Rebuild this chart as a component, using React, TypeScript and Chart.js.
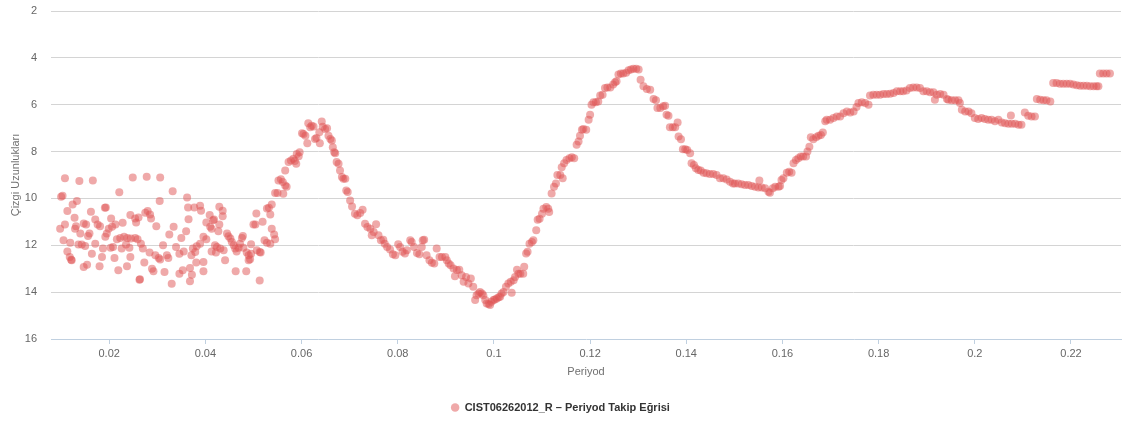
import { useEffect, useRef } from "react";
import { Chart, registerables } from "chart.js";

Chart.register(...registerables);

// [period, line length] pairs, grouped by period range
const scatterEarly: [number, number][] = [
  [0.0108, 9.14], [0.0138, 9.26], [0.0166, 9.23], [0.0249, 9.11], [0.0278, 9.07], [0.0306, 9.11],
  [0.0103, 9.89], [0.01, 9.93], [0.0221, 9.74], [0.0133, 10.11], [0.0124, 10.26], [0.0113, 10.54],
  [0.0305, 10.11], [0.0162, 10.57], [0.0193, 10.39], [0.0191, 10.4], [0.0128, 10.83], [0.0204, 10.86],
  [0.0244, 10.71], [0.0254, 10.86], [0.0261, 10.81], [0.028, 10.54], [0.0275, 10.61], [0.0285, 10.69],
  [0.0287, 10.86], [0.0171, 10.9], [0.0147, 11.07], [0.0152, 11.11], [0.0176, 11.11], [0.0181, 11.19],
  [0.0108, 11.11], [0.0098, 11.29], [0.0131, 11.19], [0.0129, 11.29], [0.0213, 11.11], [0.0228, 11.04],
  [0.0199, 11.29], [0.0206, 11.21], [0.0256, 11.03], [0.0298, 11.19], [0.014, 11.5], [0.0159, 11.5],
  [0.0156, 11.6], [0.0192, 11.64], [0.0195, 11.5], [0.0216, 11.74], [0.0223, 11.69], [0.0231, 11.64],
  [0.0238, 11.69], [0.0245, 11.71], [0.0254, 11.69], [0.0259, 11.74], [0.0325, 11.54], [0.0105, 11.79],
  [0.0119, 11.89], [0.0136, 11.97], [0.0143, 11.97], [0.015, 12.03], [0.0171, 11.93], [0.0187, 12.14],
  [0.0203, 12.11], [0.0208, 12.07], [0.0226, 12.14], [0.0235, 11.97], [0.0242, 12.11], [0.0266, 11.93],
  [0.027, 12.14], [0.0284, 12.31], [0.0312, 12.0], [0.0113, 12.26], [0.0118, 12.5], [0.0122, 12.64],
  [0.0121, 12.62], [0.0164, 12.36], [0.0185, 12.5], [0.0211, 12.54], [0.0244, 12.5], [0.0273, 12.74],
  [0.0296, 12.43], [0.0303, 12.54], [0.0306, 12.61], [0.032, 12.43], [0.0323, 12.54], [0.0154, 12.83],
  [0.0147, 12.93], [0.018, 12.89], [0.0237, 12.89], [0.0219, 13.07], [0.0289, 13.0], [0.0292, 13.11],
  [0.0315, 13.14], [0.0263, 13.47], [0.0264, 13.45],
];

const scatterMiddle: [number, number][] = [
  [0.0332, 9.69], [0.0362, 9.96], [0.0364, 10.39], [0.0377, 10.39], [0.0389, 10.31], [0.0391, 10.53],
  [0.0429, 10.36], [0.0436, 10.53], [0.0436, 10.76], [0.0409, 10.71], [0.0416, 10.93], [0.0418, 10.9],
  [0.0402, 11.03], [0.041, 11.21], [0.0413, 11.29], [0.0429, 11.11], [0.0427, 11.4], [0.0365, 10.89],
  [0.0334, 11.21], [0.036, 11.4], [0.035, 11.69], [0.0396, 11.64], [0.0402, 11.74], [0.0445, 11.5],
  [0.0448, 11.61], [0.0452, 11.71], [0.0455, 11.86], [0.0459, 12.0], [0.0462, 12.14], [0.0465, 12.26],
  [0.0472, 11.93], [0.0478, 11.6], [0.0476, 11.69], [0.0495, 11.96], [0.0504, 11.11], [0.05, 11.11],
  [0.0506, 10.64], [0.0515, 12.31], [0.0495, 12.36], [0.049, 12.43], [0.0493, 12.6], [0.0485, 13.11],
  [0.0463, 13.11], [0.0519, 11.0], [0.0528, 10.43], [0.0532, 10.4], [0.0538, 10.26], [0.0535, 10.69],
  [0.0538, 11.29], [0.0543, 11.54], [0.0545, 11.74], [0.0523, 11.79], [0.0528, 11.89], [0.0535, 11.93],
  [0.0513, 13.5], [0.042, 12.0], [0.0424, 12.07], [0.0422, 12.31], [0.0389, 11.93], [0.0382, 12.04],
  [0.0379, 12.29], [0.0374, 12.14], [0.0371, 12.43], [0.0355, 12.26], [0.0346, 12.36], [0.0339, 12.07],
  [0.0396, 12.71], [0.0381, 12.74], [0.0368, 12.97], [0.0372, 13.26], [0.0353, 13.07], [0.0346, 13.21],
  [0.0396, 13.11], [0.0368, 13.54], [0.033, 13.64], [0.0441, 12.64], [0.0413, 12.26], [0.0431, 12.14],
  [0.0438, 12.21], [0.0486, 12.31], [0.049, 12.64], [0.0507, 12.21], [0.0513, 12.29], [0.0479, 12.1],
  [0.0469, 12.1],
];

const firstCrest: [number, number][] = [
  [0.0545, 9.77], [0.055, 9.77], [0.0552, 9.23], [0.0557, 9.18], [0.0561, 9.3], [0.0566, 9.45],
  [0.0569, 9.5], [0.0562, 9.8], [0.0566, 8.81], [0.0573, 8.45], [0.0578, 8.38], [0.0583, 8.31],
  [0.0586, 8.4], [0.0589, 8.52], [0.059, 8.1], [0.0596, 8.03], [0.0594, 8.2], [0.0601, 7.22],
  [0.0604, 7.25], [0.0608, 7.32], [0.0612, 7.65], [0.0614, 6.79], [0.0618, 6.96], [0.0621, 6.9],
  [0.0625, 6.93], [0.0628, 7.46], [0.0631, 7.42], [0.0637, 7.18], [0.0638, 7.65], [0.0642, 6.72],
  [0.0644, 6.94], [0.0649, 7.04], [0.0653, 7.0], [0.0656, 7.32], [0.066, 7.46], [0.0663, 7.53],
  [0.0665, 7.82], [0.0668, 8.03], [0.067, 8.07], [0.0673, 8.45], [0.0677, 8.52], [0.068, 8.81],
  [0.0684, 9.09], [0.0687, 9.16], [0.0691, 9.16], [0.0693, 9.66], [0.0696, 9.73], [0.0701, 10.09],
  [0.0705, 10.34], [0.0711, 10.65], [0.0716, 10.72], [0.0722, 10.62], [0.0727, 10.48], [0.0732, 11.08],
  [0.0737, 11.22], [0.0743, 11.29], [0.0746, 11.57], [0.075, 11.43], [0.0755, 11.1], [0.076, 11.57],
  [0.0765, 11.79], [0.077, 11.76], [0.0773, 11.93], [0.0778, 12.07], [0.0784, 12.18], [0.079, 12.38],
  [0.0795, 12.43], [0.0801, 11.96], [0.0805, 12.07], [0.081, 12.28], [0.0815, 12.35], [0.0819, 12.21],
  [0.0826, 11.79], [0.0829, 11.86], [0.0834, 12.07], [0.084, 12.33], [0.0845, 12.38], [0.0852, 11.79],
  [0.0855, 11.76], [0.085, 12.07],
];

const troughAndRise: [number, number][] = [
  [0.086, 12.43], [0.0866, 12.64], [0.0871, 12.75], [0.0876, 12.78], [0.0881, 12.14], [0.0887, 12.5],
  [0.0892, 12.5], [0.0899, 12.5], [0.0902, 12.64], [0.0906, 12.78], [0.091, 12.85], [0.0916, 12.99],
  [0.0923, 13.06], [0.0928, 13.04], [0.0919, 13.32], [0.0933, 13.28], [0.0937, 13.56], [0.0942, 13.35],
  [0.0947, 13.63], [0.0952, 13.42], [0.0957, 13.77], [0.0961, 14.34], [0.0964, 14.13], [0.0968, 14.06],
  [0.0971, 13.99], [0.0975, 14.06], [0.0978, 14.13], [0.0982, 14.34], [0.0985, 14.48], [0.0989, 14.51],
  [0.0992, 14.55], [0.0995, 14.41], [0.0999, 14.34], [0.1002, 14.31], [0.1006, 14.27], [0.101, 14.22],
  [0.1013, 14.2], [0.1016, 14.06], [0.102, 13.99], [0.1025, 13.77], [0.103, 13.63], [0.1035, 13.56],
  [0.1037, 14.03], [0.1041, 13.49], [0.1044, 13.35], [0.1048, 13.04], [0.1051, 13.21], [0.1055, 13.21],
  [0.1061, 13.21], [0.1063, 12.92], [0.1067, 12.35], [0.107, 12.28], [0.1074, 11.93], [0.1079, 11.86],
  [0.1082, 11.79], [0.1088, 11.36], [0.1091, 10.91], [0.1095, 10.87], [0.11, 10.65], [0.1103, 10.44],
  [0.1109, 10.37], [0.1113, 10.44], [0.1115, 10.58],
];

const mainCrest: [number, number][] = [
  [0.112, 9.79], [0.1125, 9.5], [0.1129, 9.36], [0.1132, 9.0], [0.1138, 9.0], [0.1143, 9.14],
  [0.1141, 8.67], [0.1146, 8.5], [0.1151, 8.36], [0.1157, 8.29], [0.1162, 8.24], [0.1167, 8.29],
  [0.1172, 7.71], [0.1176, 7.57], [0.1179, 7.33], [0.1183, 7.07], [0.1186, 7.04], [0.1192, 7.07],
  [0.1197, 6.64], [0.12, 6.43], [0.1203, 6.0], [0.1207, 5.9], [0.1212, 5.9], [0.1217, 5.86],
  [0.1221, 5.61], [0.1226, 5.57], [0.1231, 5.29], [0.1236, 5.26], [0.1242, 5.26], [0.1248, 5.14],
  [0.1252, 5.04], [0.1255, 5.0], [0.1259, 4.71], [0.1264, 4.67], [0.1269, 4.67], [0.1275, 4.64],
  [0.128, 4.53], [0.1285, 4.5], [0.129, 4.47], [0.1296, 4.46], [0.1301, 4.5], [0.1305, 4.93],
  [0.1311, 5.21], [0.1318, 5.33], [0.1325, 5.36], [0.1332, 5.76], [0.1337, 5.81], [0.134, 6.14],
  [0.1346, 6.14], [0.1352, 6.07], [0.1356, 6.04], [0.1359, 6.43], [0.1363, 6.47], [0.1366, 6.96],
  [0.1372, 6.96], [0.1377, 6.96], [0.1382, 6.76], [0.1384, 7.36], [0.1389, 7.47], [0.1393, 7.9],
  [0.1398, 7.9], [0.1402, 7.93], [0.1408, 8.07], [0.1411, 8.5], [0.1416, 8.57], [0.142, 8.71],
  [0.1425, 8.79], [0.143, 8.81], [0.1436, 8.9], [0.1442, 8.93], [0.1449, 8.96], [0.1456, 8.96],
  [0.1463, 9.0], [0.147, 9.14], [0.1477, 9.14], [0.1484, 9.19], [0.1491, 9.29], [0.1497, 9.36],
  [0.1501, 9.36], [0.1508, 9.36], [0.1515, 9.4], [0.1522, 9.43], [0.1529, 9.43], [0.1536, 9.47],
  [0.1543, 9.5], [0.155, 9.53], [0.1552, 9.24], [0.1557, 9.53], [0.1564, 9.57], [0.1571, 9.71],
  [0.1574, 9.76], [0.158, 9.57], [0.1585, 9.5], [0.1592, 9.5], [0.1595, 9.47], [0.1598, 9.21],
  [0.1602, 9.14], [0.1609, 8.9], [0.1614, 8.86], [0.1619, 8.9], [0.1623, 8.5], [0.1628, 8.36],
  [0.1633, 8.29], [0.1638, 8.21], [0.1643, 8.21], [0.1649, 8.21], [0.1652, 8.0], [0.1656, 7.79],
  [0.1659, 7.39], [0.1664, 7.47], [0.167, 7.39], [0.1675, 7.33], [0.168, 7.29], [0.1684, 7.19],
  [0.1689, 6.71], [0.1692, 6.64],
];

const lateWave: [number, number][] = [
  [0.1699, 6.64], [0.1706, 6.57], [0.1713, 6.5], [0.172, 6.5], [0.1727, 6.36], [0.1734, 6.29],
  [0.1741, 6.33], [0.1748, 6.29], [0.1754, 6.1], [0.1758, 5.93], [0.1765, 5.9], [0.1772, 5.93],
  [0.1779, 6.0], [0.1782, 5.61], [0.1789, 5.57], [0.1796, 5.57], [0.1803, 5.57], [0.181, 5.54],
  [0.1817, 5.54], [0.1824, 5.53], [0.1831, 5.5], [0.1838, 5.43], [0.1845, 5.43], [0.1851, 5.43],
  [0.1858, 5.39], [0.1865, 5.29], [0.1872, 5.26], [0.1879, 5.26], [0.1886, 5.29], [0.1893, 5.43],
  [0.19, 5.43], [0.1907, 5.47], [0.1914, 5.47], [0.1917, 5.79], [0.1921, 5.57], [0.1928, 5.54],
  [0.1935, 5.57], [0.1942, 5.76], [0.1945, 5.79], [0.1952, 5.81], [0.1959, 5.81], [0.1966, 5.81],
  [0.1969, 5.93], [0.1973, 6.21], [0.198, 6.29], [0.1987, 6.29], [0.1993, 6.36], [0.2, 6.57],
  [0.2007, 6.61], [0.2014, 6.57], [0.2021, 6.61], [0.2028, 6.64], [0.2035, 6.64], [0.2042, 6.71],
  [0.2049, 6.64], [0.2056, 6.76], [0.2063, 6.79], [0.207, 6.81], [0.2077, 6.81], [0.2075, 6.46],
  [0.2084, 6.81], [0.2091, 6.86], [0.2097, 6.86], [0.2104, 6.33], [0.2111, 6.47], [0.2118, 6.5],
  [0.2125, 6.5], [0.2129, 5.76], [0.2136, 5.79], [0.2143, 5.81], [0.2149, 5.81], [0.2157, 5.86],
  [0.2163, 5.07], [0.217, 5.07], [0.2177, 5.1], [0.2184, 5.1], [0.2191, 5.1], [0.2198, 5.1],
  [0.2205, 5.14], [0.2212, 5.17], [0.2219, 5.19], [0.2226, 5.19], [0.2233, 5.19], [0.224, 5.21],
  [0.2247, 5.21], [0.2253, 5.21], [0.2257, 5.21], [0.226, 4.67], [0.2267, 4.67], [0.2274, 4.67],
  [0.2281, 4.67],
];

const xTickValues = [0.02, 0.04, 0.06, 0.08, 0.1, 0.12, 0.14, 0.16, 0.18, 0.2, 0.22];
const seriesName = "CIST06262012_R – Periyod Takip Eğrisi";
const xAxisTitle = "Periyod";
const yAxisTitle = "Çizgi Uzunlukları";

const FONT = "'Liberation Sans', Arial, sans-serif";
const MARKER = "rgba(223, 83, 83, 0.5)";

export default function App() {
  const canvasRef = useRef<HTMLCanvasElement>(null);

  useEffect(() => {
    document.body.style.margin = "0";
    const points = [
      ...scatterEarly,
      ...scatterMiddle,
      ...firstCrest,
      ...troughAndRise,
      ...mainCrest,
      ...lateWave,
    ].map(([x, y]) => ({ x, y }));

    const chart = new Chart(canvasRef.current!, {
      type: "scatter",
      data: {
        datasets: [
          {
            label: seriesName,
            data: points,
            pointRadius: 4,
            pointHoverRadius: 4,
            pointBorderWidth: 0,
            pointBackgroundColor: MARKER,
            backgroundColor: MARKER,
            borderColor: MARKER,
          },
        ],
      },
      options: {
        animation: false,
        responsive: false,
        devicePixelRatio: 1,
        layout: { padding: { top: 11, right: 12, left: 0, bottom: 0 } },
        plugins: {
          tooltip: { enabled: false },
          legend: {
            position: "bottom",
            labels: {
              usePointStyle: true,
              pointStyle: "circle",
              boxWidth: 8,
              boxHeight: 6,
              padding: 10,
              color: "#333333",
              font: { family: FONT, size: 11, weight: "bold" },
            },
          },
        },
        scales: {
          x: {
            type: "linear",
            min: 0.0079,
            max: 0.2304,
            afterBuildTicks: (scale: any) => {
              scale.ticks = xTickValues.map((v) => ({ value: v }));
            },
            afterFit: (scale: any) => {
              scale.height = 53;
            },
            ticks: {
              color: "#666666",
              font: { family: FONT, size: 11 },
              padding: 3,
              maxRotation: 0,
              callback: (v: any) => String(Number(Number(v).toFixed(2))),
            },
            grid: {
              drawOnChartArea: false,
              drawTicks: true,
              tickLength: 5,
              color: "#C0D0E0",
            },
            border: { color: "#C0D0E0", width: 1 },
            title: {
              display: true,
              text: xAxisTitle,
              color: "#707070",
              font: { family: FONT, size: 11 },
              padding: { top: 0, bottom: 13 },
            },
          },
          y: {
            reverse: true,
            min: 2,
            max: 16,
            afterFit: (scale: any) => {
              scale.width = 51;
            },
            ticks: {
              stepSize: 2,
              padding: 0,
              color: "#666666",
              font: { family: FONT, size: 11 },
            },
            grid: {
              drawTicks: true,
              tickLength: 14,
              tickColor: "rgba(0,0,0,0)",
              color: (ctx: any) => (ctx.tick && ctx.tick.value === 16 ? "rgba(0,0,0,0)" : "#D4D4D4"),
            },
            border: { display: false },
            title: {
              display: true,
              text: yAxisTitle,
              color: "#707070",
              font: { family: FONT, size: 11 },
              padding: { top: 9, bottom: 0 },
            },
          },
        },
      },
    } as any);

    return () => chart.destroy();
  }, []);

  return (
    <div style={{ position: "absolute", left: 0, top: 0, width: 1133, height: 423, background: "#fff" }}>
      <canvas ref={canvasRef} width={1133} height={423} />
    </div>
  );
}
